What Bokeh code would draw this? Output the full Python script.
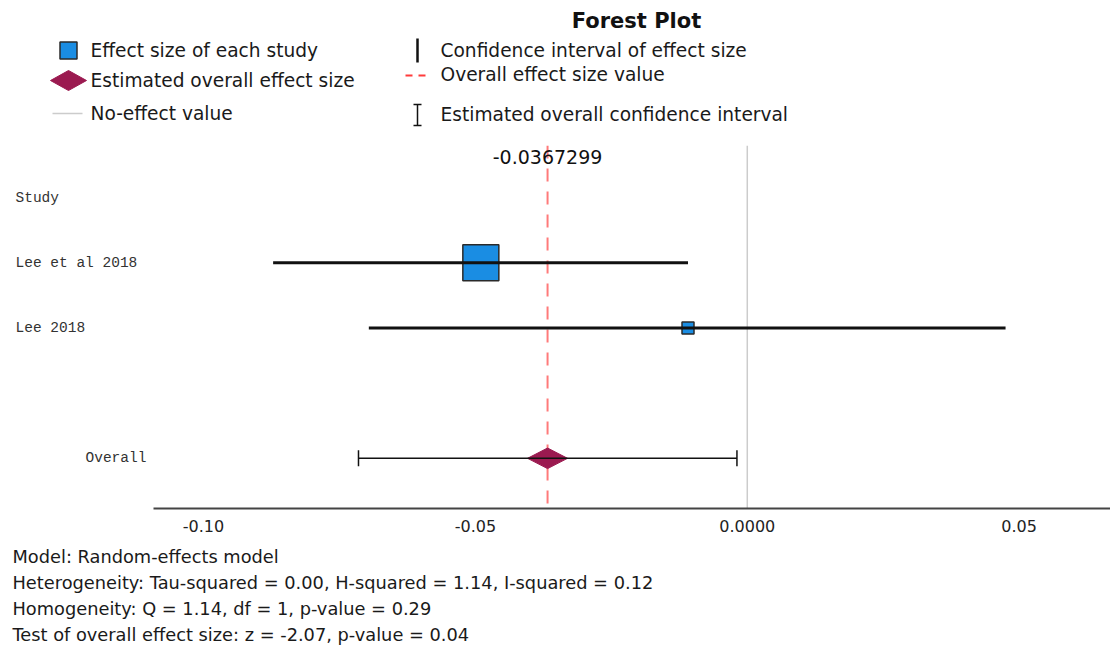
import numpy as np
from bokeh.plotting import figure
from bokeh.models import Range1d, Span, Label, Whisker, ColumnDataSource, FixedTicker, TeeHead
from bokeh.layouts import column, row
from bokeh.embed import file_html
from bokeh.resources import INLINE
from bokeh.core.properties import value

# ---------------- data ----------------
title = "Forest Plot"
header_label = "Study"
studies = ["Lee et al 2018", "Lee 2018"]
effect = [-0.0490, -0.0109]
ci_low = [-0.0872, -0.0696]
ci_high = [-0.0109, 0.0475]
weight = [75.0, 25.0]          # relative study weight (marker size)
overall_label = "Overall"
overall_effect = -0.0367299
overall_low = -0.0715
overall_high = -0.0019
no_effect = 0.0
tick_values = [-0.10, -0.05, 0.0, 0.05]
tick_labels = ["-0.10", "-0.05", "0.0000", "0.05"]
legend_left = ["Effect size of each study", "Estimated overall effect size", "No-effect value"]
legend_right = ["Confidence interval of effect size", "Overall effect size value",
                "Estimated overall confidence interval"]
stats_lines = [
    "Model: Random-effects model",
    "Heterogeneity: Tau-squared = 0.00, H-squared = 1.14, I-squared = 0.12",
    "Homogeneity: Q = 1.14, df = 1, p-value = 0.29",
    "Test of overall effect size: z = -2.07, p-value = 0.04",
]

# ---------------- styles ----------------
W = 1110
BLUE = "#1a8de3"
EDGE = "#2a2a2a"
MAROON = "#9b1a50"
RED_DASH = "#ff7a7a"
GRAY = "#cccccc"
SANS = "DejaVu Sans"
MONO = "Liberation Mono"


def blank(width, height, xr, yr, **kw):
    f = figure(width=width, height=height, x_range=xr, y_range=yr,
               x_axis_location=None, y_axis_location=None,
               output_backend="svg", toolbar_location=None, **kw)
    f.grid.visible = False
    f.outline_line_color = None
    f.frame_align = False
    return f


# ---------------- header (title + legend) ----------------
H_HEAD = 145
head = blank(W, H_HEAD, Range1d(0, W), Range1d(H_HEAD, 0), min_border=0)

head.text(x=[636], y=[20], text=[title], text_font=value(SANS), text_font_style="bold",
          text_font_size="21px", text_align="center", text_baseline="middle", text_color="#111111")
head.text(x=[90] * 3, y=[50, 80, 113], text=legend_left, text_font=value(SANS), text_font_size="18.6px",
          text_baseline="middle", text_color="#1a1a1a")
head.text(x=[440] * 3, y=[50, 74, 114], text=legend_right, text_font=value(SANS), text_font_size="18.6px",
          text_baseline="middle", text_color="#1a1a1a")
# legend glyphs
head.scatter(x=[68], y=[50], marker="square", size=17, fill_color=BLUE, line_color=EDGE, line_width=1.5)
head.patch(x=[50, 68, 86, 68], y=[80, 70, 80, 90], fill_color=MAROON, line_color=MAROON)
head.segment(x0=[52], y0=[113], x1=[82], y1=[113], line_color=GRAY, line_width=1.5)
head.segment(x0=[417], y0=[38], x1=[417], y1=[62], line_color="#111111", line_width=2.5)
head.segment(x0=[405], y0=[75], x1=[431], y1=[75], line_color="#ff3b3b", line_width=2, line_dash="7 6")
head.segment(x0=[417, 413, 413], y0=[104, 104, 125], x1=[417, 421, 421], y1=[125, 104, 125],
             line_color="#111111", line_width=1.5)

# ---------------- main forest plot ----------------
H_MAIN = 400
BOTTOM = 37
LEFT = 153
X0, X1 = -0.1092, 0.0668
px_per_unit = (W - LEFT) / (X1 - X0)
rows = [1, 2]
overall_row = 4
yr = Range1d(4.77, -0.8)

main = figure(width=W - LEFT, height=H_MAIN, x_range=Range1d(X0, X1), y_range=yr,
              y_axis_location=None, min_border_left=0, min_border_right=0,
              min_border_top=0, min_border_bottom=BOTTOM,
              output_backend="svg", toolbar_location=None)
main.grid.visible = False
main.outline_line_color = None
main.frame_align = False
ax = main.xaxis[0]
ax.ticker = FixedTicker(ticks=tick_values)
ax.major_label_overrides = {v: l for v, l in zip(tick_values, tick_labels)}
ax.axis_line_color = "#444444"
ax.axis_line_width = 2
ax.major_tick_line_color = None
ax.minor_tick_line_color = None
ax.major_label_standoff = 5
ax.major_label_text_font = SANS
ax.major_label_text_font_size = "16px"
ax.major_label_text_color = "#222222"

main.add_layout(Span(location=no_effect, dimension="height", line_color=GRAY, line_width=1.5,
                     level="underlay"))
main.add_layout(Span(location=overall_effect, dimension="height", line_color=RED_DASH,
                     line_width=2, line_dash="13 10", level="underlay"))

sizes = 36 * np.array(weight) / max(weight)
src = ColumnDataSource(dict(x=effect, y=rows, lo=ci_low, hi=ci_high, size=sizes))
main.scatter(x="x", y="y", size="size", marker="square", source=src,
             fill_color=BLUE, line_color=EDGE, line_width=1.5)
main.segment(x0="lo", y0="y", x1="hi", y1="y", source=src, line_color="#111111", line_width=3)

# overall diamond
dx = 20 / px_per_unit
dy = 10.3 / (H_MAIN - BOTTOM) * (4.77 + 0.8)
main.patch(x=[overall_effect - dx, overall_effect, overall_effect + dx, overall_effect],
           y=[overall_row, overall_row - dy, overall_row, overall_row + dy],
           fill_color=MAROON, line_color=MAROON)
wsrc = ColumnDataSource(dict(base=[overall_row], lower=[overall_low], upper=[overall_high]))
main.add_layout(Whisker(source=wsrc, base="base", lower="lower", upper="upper", dimension="width",
                        line_color="#111111", line_width=1.5, level="overlay",
                        lower_head=TeeHead(size=16, line_width=1.5, line_color="#111111"),
                        upper_head=TeeHead(size=16, line_width=1.5, line_color="#111111")))

# value label on top
main.add_layout(Label(x=overall_effect, y=-0.63, text=f"{overall_effect:.7f}", text_align="center",
                      text_baseline="middle", text_font=SANS, text_font_size="19px",
                      text_color="#111111"))

# ---------------- row labels (left column) ----------------
labels = blank(LEFT, H_MAIN, Range1d(0, LEFT), yr, min_border_left=0, min_border_right=0,
               min_border_top=0, min_border_bottom=BOTTOM)
lab_text = [header_label] + studies + [overall_label]
lab_y = [0] + rows + [overall_row]
lab_x = [15, 15, 15, 85]
labels.text(x=lab_x, y=lab_y, text=lab_text, text_font=value(MONO), text_font_size="14.5px",
            text_baseline="middle", text_color="#333333")

# ---------------- footer statistics ----------------
H_FOOT = 655 - H_HEAD - H_MAIN
foot = blank(W, H_FOOT, Range1d(0, W), Range1d(H_FOOT, 0), min_border=0)
foot.text(x=[12] * len(stats_lines), y=[11 + 26 * i for i in range(len(stats_lines))], text=stats_lines,
          text_font=value(SANS), text_font_size="17.8px", text_baseline="middle", text_color="#1a1a1a")

layout = column(head, row(labels, main, spacing=0), foot, spacing=0)
open("out.html", "w").write(file_html(layout, INLINE))
